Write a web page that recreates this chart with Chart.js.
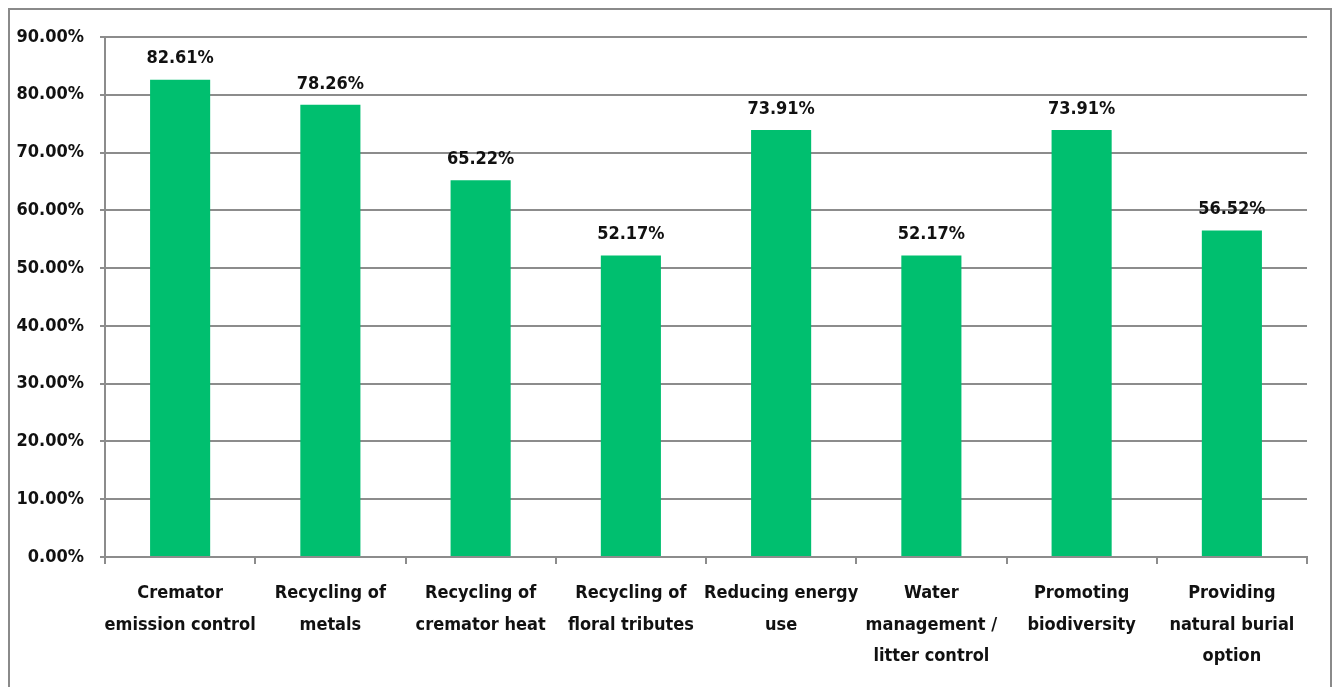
<!DOCTYPE html>
<html>
<head>
<meta charset="utf-8">
<script src="https://cdn.jsdelivr.net/npm/chart.js@4/dist/chart.umd.min.js"></script>
<style>
  html, body { margin: 0; padding: 0; background: #fff; }
  #wrap { width: 1339px; height: 687px; position: relative; }
</style>
</head>
<body>
<div id="wrap"><canvas id="chart"></canvas></div>
<script>
        // categories (multi-line labels as in the picture)
        var categories = [
          ['Cremator', 'emission control'],
          ['Recycling of', 'metals'],
          ['Recycling of', 'cremator heat'],
          ['Recycling of', 'floral tributes'],
          ['Reducing energy', 'use'],
          ['Water', 'management /', 'litter control'],
          ['Promoting', 'biodiversity'],
          ['Providing', 'natural burial', 'option']
        ];
        // percent values
        var values = [82.61, 78.26, 65.22, 52.17, 73.91, 52.17, 73.91, 56.52];
        var yMax = 90;
        var yStep = 10;

        var FONT = '"DejaVu Sans Condensed", "DejaVu Sans", sans-serif';
        var gridCol = '#8c8c8c';

        //draws the value above each bar
        var barLabels = {
          id: 'barLabels',
          afterDatasetsDraw: function(chart) {
            var ctx = chart.ctx;
            var meta = chart.getDatasetMeta(0);
            ctx.save();
            ctx.font = 'bold 18px ' + FONT;
            ctx.fillStyle = '#111';
            ctx.textAlign = 'center';
            ctx.textBaseline = 'bottom';
            meta.data.forEach(function(bar, i) {
              ctx.fillText(values[i].toFixed(2) + '%', bar.x, bar.y - 12);
            });
            ctx.restore();
          }
        };

        //outer frame round the chart
        var frame = {
          id: 'frame',
          beforeDraw: function(chart) {
            var ctx = chart.ctx;
            ctx.save();
            ctx.fillStyle = '#fff';
            ctx.fillRect(0, 0, chart.width, chart.height);
            ctx.strokeStyle = '#8a8a8a';
            ctx.lineWidth = 2;
            ctx.strokeRect(9, 9, 1322, 700);
            ctx.restore();
          }
        };

        var ctx = document.getElementById('chart').getContext('2d');
        var barChart = new Chart(ctx, {
          type: 'bar',
          data: {
            labels: categories,
            datasets: [
              {
                label: 'Share',
                data: values,
                backgroundColor: '#00bf6f',
                borderWidth: 0,
                categoryPercentage: 1.0,
                barPercentage: 0.4
              }
            ]
          },
          options: {
            responsive: true,
            maintainAspectRatio: false,
            animation: false,
            layout: { padding: { top: 37, right: 32, left: 0, bottom: 0 } },
            plugins: {
              legend: { display: false },
              tooltip: { enabled: false }
            },
            scales: {
              y: {
                min: 0,
                max: yMax,
                afterFit: function(scale) { scale.width = 105; },
                ticks: {
                  stepSize: yStep,
                  padding: 16,
                  color: '#111',
                  font: { family: FONT, size: 18, weight: 'bold' },
                  callback: function(v) { return v.toFixed(2) + '%'; }
                },
                grid: { color: gridCol, lineWidth: 2, tickLength: 5 },
                border: { color: gridCol, width: 2 }
              },
              x: {
                afterFit: function(scale) { scale.height = 130; },
                ticks: {
                  padding: 14,
                  color: '#111',
                  maxRotation: 0,
                  autoSkip: false,
                  font: { family: FONT, size: 18, weight: 'bold', lineHeight: 1.75 }
                },
                grid: { offset: true, drawOnChartArea: false, color: gridCol, lineWidth: 2, tickLength: 7 },
                border: { color: gridCol, width: 2 }
              }
            }
          },
          plugins: [frame, barLabels]
        });
</script>
</body>
</html>
